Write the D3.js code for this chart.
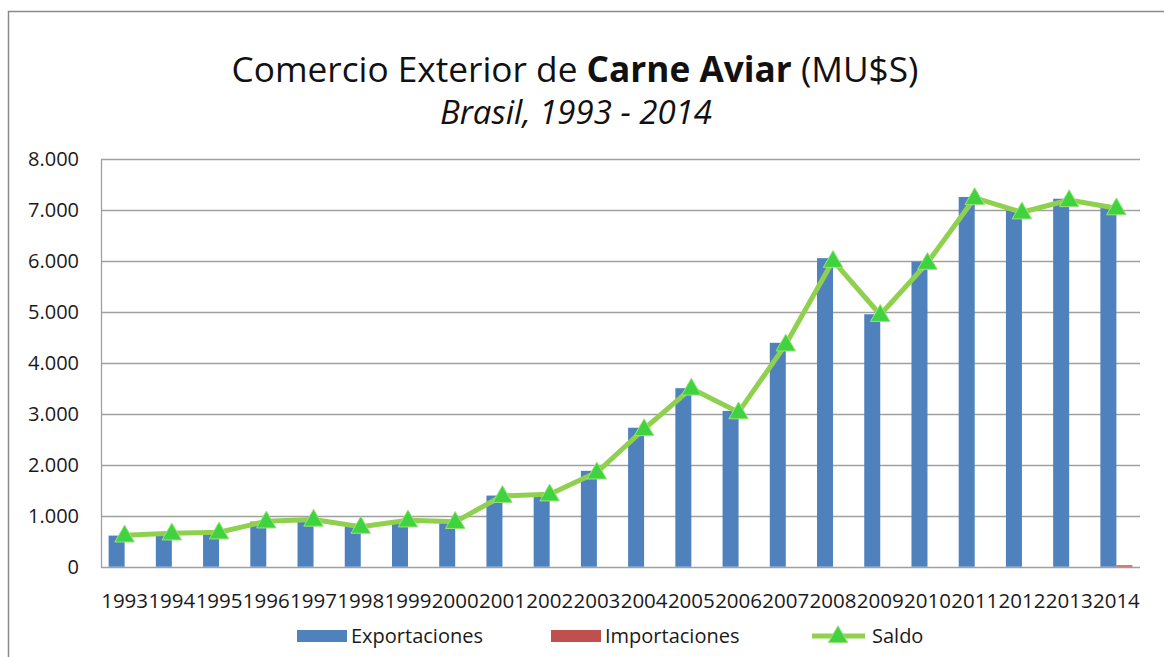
<!DOCTYPE html>
<html lang="es">

<head>
    <meta charset="utf-8">
    <script src="https://d3js.org/d3.v7.min.js"></script>
    <style>
        body { margin: 0; background: #fff; }
        svg { display: block; font-family: "Open Sans", "Noto Sans", sans-serif; }
    </style>
</head>

<body>
    <script>
        // datos (MU$S)
        const years = ['1993', '1994', '1995', '1996', '1997', '1998', '1999', '2000', '2001', '2002', '2003',
            '2004', '2005', '2006', '2007', '2008', '2009', '2010', '2011', '2012', '2013', '2014'];
        const exportaciones = [610, 620, 650, 885, 900, 785, 865, 870, 1395, 1385, 1880,
            2725, 3500, 3055, 4390, 6050, 4950, 5985, 7250, 6975, 7215, 7055];
        const importaciones = [0, 0, 0, 0, 0, 0, 0, 0, 0, 0, 0,
            0, 0, 0, 0, 0, 0, 0, 0, 0, 0, 28];
        const saldo = [615, 655, 675, 890, 925, 785, 910, 880, 1390, 1420, 1850,
            2700, 3495, 3030, 4360, 6000, 4940, 5960, 7230, 6950, 7190, 7030];
        const yTicks = [0, 1000, 2000, 3000, 4000, 5000, 6000, 7000, 8000];

        const W = 1164, H = 657;
        const plot = { left: 101, right: 1140, top: 158.7, bottom: 566.7 };

        const colors = { exp: '#4f81bd', imp: '#c0504d', line: '#8fd14f', marker: '#3fd33f' };

        const locale = d3.formatLocale({ decimal: ',', thousands: '.', grouping: [3], currency: ['$', ''] });
        const fmt = locale.format(',d');

        const svg = d3.select('body').append('svg')
            .attr('width', W)
            .attr('height', H);

        // marco exterior del grafico
        svg.append('rect')
            .attr('x', 8.5).attr('y', 11.5)
            .attr('width', 1300).attr('height', 800)
            .attr('fill', 'none')
            .attr('stroke', '#8a8a8a')
            .attr('stroke-width', 1.5);

        const x = d3.scaleBand()
            .domain(years)
            .range([plot.left, plot.right]);

        const barW = 16;
        const xSeries = d3.scaleBand()
            .domain(['exp', 'imp'])
            .range([-barW, barW]);

        const y = d3.scaleLinear()
            .domain([0, 8000])
            .range([plot.bottom, plot.top]);

        // lineas de grilla
        svg.append('g')
            .selectAll('line')
            .data(yTicks)
            .enter()
            .append('line')
            .attr('x1', plot.left).attr('x2', plot.right)
            .attr('y1', d => Math.round(y(d)) + 0.5)
            .attr('y2', d => Math.round(y(d)) + 0.5)
            .attr('stroke', '#a0a0a0')
            .attr('stroke-width', 1.3);

        // borde izquierdo del area de trazado
        svg.append('line')
            .attr('x1', plot.left + 0.5).attr('x2', plot.left + 0.5)
            .attr('y1', Math.round(plot.top) + 0.5)
            .attr('y2', Math.round(plot.bottom) + 0.5)
            .attr('stroke', '#a0a0a0')
            .attr('stroke-width', 1.3);

        const yAxis = d3.axisLeft(y)
            .tickValues(yTicks)
            .tickFormat(fmt)
            .tickSize(0)
            .tickPadding(22);

        svg.append('g')
            .attr('transform', 'translate(' + plot.left + ',0)')
            .call(yAxis)
            .call(g => g.select('.domain').remove())
            .selectAll('text')
            .attr('font-size', 20)
            .attr('font-family', '"Open Sans", sans-serif')
            .attr('fill', '#1a1a1a');

        const xAxis = d3.axisBottom(x)
            .tickSize(0)
            .tickPadding(27);

        svg.append('g')
            .attr('transform', 'translate(0,' + plot.bottom + ')')
            .call(xAxis)
            .call(g => g.select('.domain').remove())
            .selectAll('text')
            .attr('font-size', 20.5)
            .attr('font-family', '"Open Sans", sans-serif')
            .attr('fill', '#1a1a1a');

        // barras
        svg.append('g').selectAll('rect')
            .data(years)
            .enter()
            .append('rect')
            .attr('x', (d) => x(d) + x.bandwidth() / 2 + xSeries('exp'))
            .attr('y', (d, i) => y(exportaciones[i]))
            .attr('width', xSeries.bandwidth())
            .attr('height', (d, i) => y(0) - y(exportaciones[i]))
            .attr('fill', colors.exp);

        svg.append('g').selectAll('rect')
            .data(years)
            .enter()
            .append('rect')
            .attr('x', (d) => x(d) + x.bandwidth() / 2 + xSeries('imp'))
            .attr('y', (d, i) => y(importaciones[i]))
            .attr('width', xSeries.bandwidth())
            .attr('height', (d, i) => y(0) - y(importaciones[i]))
            .attr('fill', colors.imp);

        // linea de saldo
        const line = d3.line()
            .x((d, i) => x(years[i]) + x.bandwidth() / 2)
            .y(d => y(d));

        svg.append('path')
            .datum(saldo)
            .attr('d', line)
            .attr('fill', 'none')
            .attr('stroke', colors.line)
            .attr('stroke-width', 5)
            .attr('stroke-linejoin', 'round');

        const tri = d3.symbol().type(d3.symbolTriangle).size(165);

        svg.append('g').selectAll('path')
            .data(saldo)
            .enter()
            .append('path')
            .attr('d', tri)
            .attr('transform', (d, i) => 'translate(' + (x(years[i]) + x.bandwidth() / 2) + ',' + (y(d) + 1) + ')')
            .attr('fill', colors.marker)
            .attr('stroke', '#9be27a')
            .attr('stroke-width', 1);

        // titulo
        const title = svg.append('text')
            .attr('x', 575)
            .attr('y', 82)
            .attr('text-anchor', 'middle')
            .attr('font-size', 38)
            .attr('fill', '#111');
        title.append('tspan').text('Comercio Exterior de ');
        title.append('tspan').attr('font-weight', 'bold').text('Carne Aviar');
        title.append('tspan').text(' (MU$S)');

        // ajustar al ancho medido en la referencia
        const tw = title.node().getComputedTextLength();
        title.attr('font-size', 38 * 687 / tw);

        const sub = svg.append('text')
            .attr('x', 576)
            .attr('y', 124)
            .attr('text-anchor', 'middle')
            .attr('font-size', 32)
            .attr('font-style', 'italic')
            .attr('fill', '#111')
            .text('Brasil, 1993 - 2014');
        const sw = sub.node().getComputedTextLength();
        sub.attr('font-size', 32 * 272 / sw);

        // leyenda
        const legend = svg.append('g')
            .attr('font-size', 20)
            .attr('fill', '#1a1a1a');

        const legendItems = [
            { name: 'Exportaciones', type: 'bar', color: colors.exp, x: 297 },
            { name: 'Importaciones', type: 'bar', color: colors.imp, x: 551 },
            { name: 'Saldo', type: 'line', color: colors.line, x: 812 }
        ];

        legendItems.forEach(function (it) {
            if (it.type === 'bar') {
                legend.append('rect')
                    .attr('x', it.x).attr('y', 630)
                    .attr('width', 50).attr('height', 12)
                    .attr('fill', it.color);
            } else {
                legend.append('line')
                    .attr('x1', it.x).attr('x2', it.x + 53)
                    .attr('y1', 636).attr('y2', 636)
                    .attr('stroke', it.color)
                    .attr('stroke-width', 5);
                legend.append('path')
                    .attr('d', tri)
                    .attr('transform', 'translate(' + (it.x + 26) + ',637)')
                    .attr('fill', colors.marker)
                    .attr('stroke', '#9be27a');
            }
            legend.append('text')
                .attr('x', it.x + (it.type === 'bar' ? 54 : 60))
                .attr('y', 643)
                .attr('fill', '#1a1a1a')
                .text(it.name);
        });
    </script>

</body>

</html>
